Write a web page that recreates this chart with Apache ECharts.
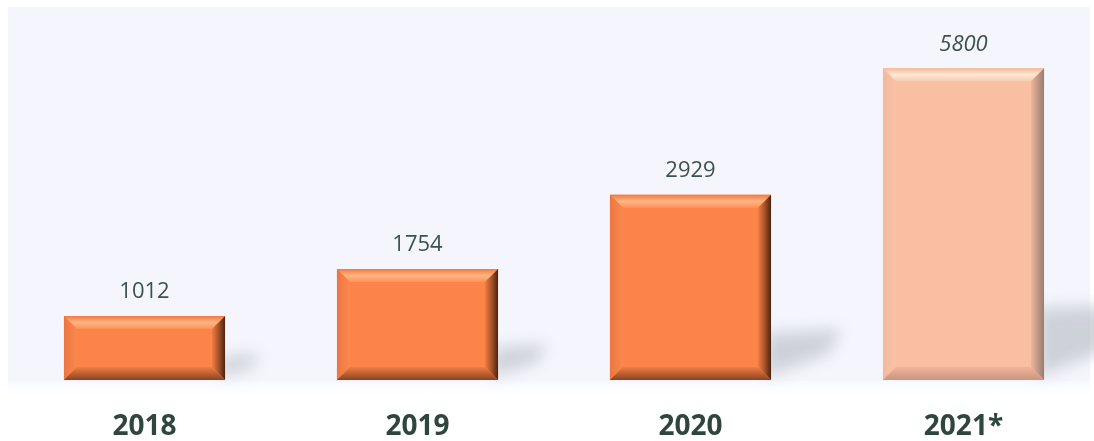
<!DOCTYPE html>
<html>
<head>
<meta charset="utf-8">
<script src="https://cdn.jsdelivr.net/npm/echarts@6/dist/echarts.min.js"></script>
<style>html,body{margin:0;padding:0;background:#fff;overflow:hidden;}#c{width:1100px;height:441px;}</style>
</head>
<body>
<div id="c"></div>
<script>
// ---- data ----
const categories = ['2018', '2019', '2020', '2021*'];
const valueLabels = ['1012', '1754', '2929', '5800'];
// bar heights as drawn in the reference (the 2021 forecast bar is drawn shorter than its label)
const barValues = [1012, 1754, 2929, 4930];
const isForecast = [false, false, false, true];

const palettes = {
  actual: {
    face: '#fd8449', top: ['#f27a40', '#ffb584', '#fd9258'], left: ['#ec7640', '#fb8850'],
    right: ['#f27c42', '#a8542a', '#4a2410'], bottom: ['#f07e46', '#8a4420']
  },
  forecast: {
    face: '#f9bfa3', top: ['#f6b898', '#fde8d4', '#fbcbb2'], left: ['#f4b99c', '#f9c2a6'],
    right: ['#f0b496', '#c29a87', '#9a7c70'], bottom: ['#f1b497', '#c99680']
  }
};

const chart = echarts.init(document.getElementById('c'), null, { renderer: 'canvas' });

function lin(x, y, x2, y2, stops) {
  const n = stops.length;
  return new echarts.graphic.LinearGradient(x, y, x2, y2,
    stops.map((c, i) => ({ offset: n === 1 ? 0 : i / (n - 1), color: c })));
}

const OFF = 3000;

function renderItem(params, api) {
  const i = api.value(0);
  const v = api.value(1);
  const top = api.coord([i, v]);
  const base = api.coord([i, 0]);
  const slot = api.size([1, 0])[0];
  const bw = slot * 0.59;
  const x0 = top[0] - bw / 2, x1 = top[0] + bw / 2;
  const y0 = top[1], y1 = base[1];
  const h = y1 - y0;
  const b = Math.min(13, h / 2);
  const p = isForecast[i] ? palettes.forecast : palettes.actual;

  const sh = 0.2 * h + 10;
  const sl = 0.3 * h + 16;
  const pts = [[x1 - 6, y1 - 3], [x1 - 6, y1 - sh], [x1 + sl, y1 - sh - 4], [x1 + sl * 0.8, y1 - sh * 0.55]]
    .map(q => [q[0] - OFF, q[1]]);
  const children = [
    {
      type: 'polygon', z2: 1,
      shape: { points: pts },
      style: {
        fill: '#000',
        shadowBlur: 16, shadowColor: 'rgba(165,172,180,0.5)', shadowOffsetX: OFF, shadowOffsetY: 0
      }
    },
    { type: 'rect', z2: 2, shape: { x: x0, y: y0, width: bw, height: h }, style: { fill: p.face } },
    {
      type: 'polygon', z2: 3,
      shape: { points: [[x0, y0], [x1, y0], [x1 - b, y0 + b], [x0 + b, y0 + b]] },
      style: { fill: lin(0, 0, 0, 1, p.top) }
    },
    {
      type: 'polygon', z2: 3,
      shape: { points: [[x0, y0], [x0 + b, y0 + b], [x0 + b, y1 - b], [x0, y1]] },
      style: { fill: lin(0, 0, 1, 0, p.left) }
    },
    {
      type: 'polygon', z2: 3,
      shape: { points: [[x1, y0], [x1, y1], [x1 - b, y1 - b], [x1 - b, y0 + b]] },
      style: { fill: lin(0, 0, 1, 0, p.right) }
    },
    {
      type: 'polygon', z2: 3,
      shape: { points: [[x0, y1], [x1, y1], [x1 - b, y1 - b], [x0 + b, y1 - b]] },
      style: { fill: lin(0, 0, 0, 1, p.bottom) }
    },
    {
      type: 'text', z2: 4,
      style: {
        text: valueLabels[i], x: top[0], y: y0 - 24, align: 'center', verticalAlign: 'middle',
        fontSize: 22, fontFamily: '"Open Sans", "Noto Sans", sans-serif',
        fontStyle: isForecast[i] ? 'italic' : 'normal', fill: '#3f514d'
      }
    }
  ];
  return { type: 'group', children: children };
}

chart.setOption({
  animation: false,
  backgroundColor: '#ffffff',
  graphic: [
    { type: 'rect', z: -10, shape: { x: 8, y: 7, width: 1082, height: 374 }, style: { fill: '#f5f6fd' } },
    { type: 'rect', z: -10, shape: { x: 8, y: 381, width: 1082, height: 14 },
      style: { fill: new echarts.graphic.LinearGradient(0, 0, 0, 1, [{ offset: 0, color: '#f8f9fe' }, { offset: 1, color: '#ffffff' }]) } }
  ],
  grid: { left: 8, right: 0, top: 7, bottom: 60, containLabel: false },
  xAxis: {
    type: 'category', data: categories,
    axisLine: { show: false }, axisTick: { show: false },
    axisLabel: {
      margin: 33, fontSize: 28, fontWeight: 'bold', color: '#2f463f',
      fontFamily: '"Open Sans", "Noto Sans", sans-serif'
    }
  },
  yAxis: {
    type: 'value', min: 0, max: 5900, show: false, splitLine: { show: false }
  },
  series: [{
    type: 'custom',
    renderItem: renderItem,
    clip: false,
    data: barValues.map((v, i) => [i, v])
  }]
});
</script>
</body>
</html>
